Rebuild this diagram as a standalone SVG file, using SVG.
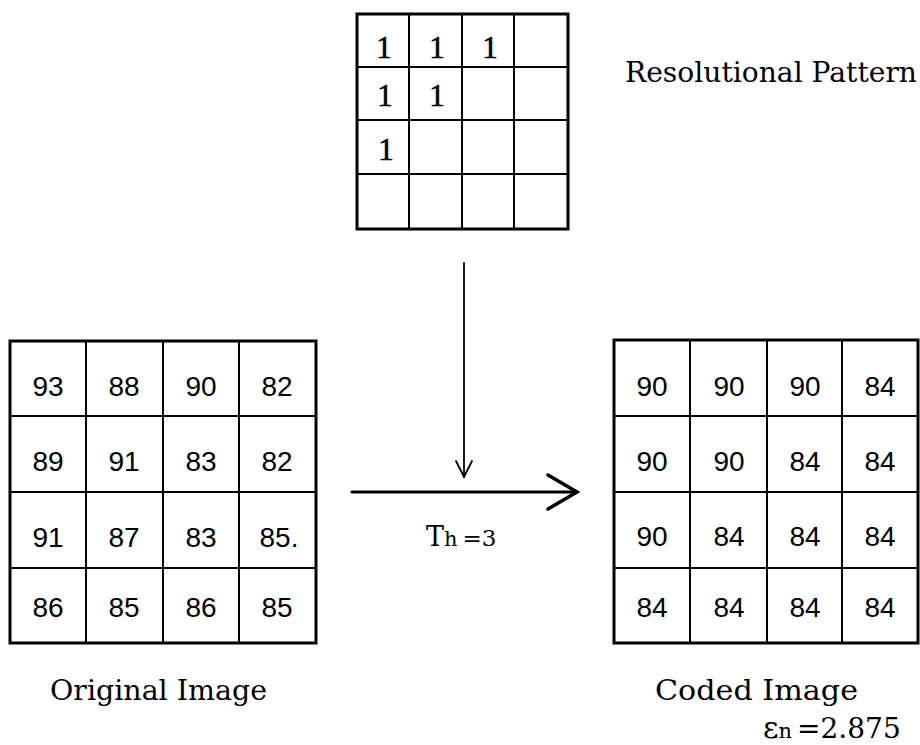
<svg xmlns="http://www.w3.org/2000/svg" width="920" height="745" viewBox="0 0 920 745">
  <style>
    .outer { fill: #fff; stroke: #000; stroke-width: 3; }
    .inner { stroke: #000; stroke-width: 2; fill: none; }
    .num { font-family: "Liberation Sans", Arial, sans-serif; font-size: 28px; text-anchor: middle; fill: #000; }
    .one { font-family: "Liberation Serif", "Times New Roman", serif; font-size: 31px; text-anchor: middle; fill: #000; stroke: #000; stroke-width: 0.6; }
    .label { font-family: "DejaVu Serif", "Liberation Serif", serif; font-size: 27px; fill: #000; }
    .conn { stroke: #000; fill: none; stroke-linecap: round; stroke-linejoin: miter; }
  </style>

  <!-- 4x4 resolutional pattern -->
  <g id="pattern">
    <rect class="outer" x="357" y="14" width="211" height="215"/>
    <path class="inner" d="M409 14V229M462 14V229M514 14V229M357 67H568M357 120H568M357 174H568"/>
    <text class="one" x="384" y="58">1</text>
    <text class="one" x="437" y="58">1</text>
    <text class="one" x="490" y="58">1</text>
    <text class="one" x="385" y="106">1</text>
    <text class="one" x="437" y="106">1</text>
    <text class="one" x="386" y="160">1</text>
  </g>
  <text id="pattern-label" class="label" x="625" y="82" textLength="292" lengthAdjust="spacingAndGlyphs">Resolutional Pattern</text>

  <!-- original 4x4 block -->
  <g id="original">
    <rect class="outer" x="10" y="341" width="306" height="302"/>
    <path class="inner" d="M86 341V643M163 341V643M239 341V643M10 416H316M10 492H316M10 568H316"/>
    <text class="num" x="48" y="396">93</text>
    <text class="num" x="124" y="396">88</text>
    <text class="num" x="201" y="396">90</text>
    <text class="num" x="277" y="396">82</text>
    <text class="num" x="48" y="471">89</text>
    <text class="num" x="124" y="471">91</text>
    <text class="num" x="201" y="471">83</text>
    <text class="num" x="277" y="471">82</text>
    <text class="num" x="48" y="547">91</text>
    <text class="num" x="124" y="547">87</text>
    <text class="num" x="201" y="547">83</text>
    <text class="num" x="279" y="547">85.</text>
    <text class="num" x="48" y="617">86</text>
    <text class="num" x="124" y="617">85</text>
    <text class="num" x="201" y="617">86</text>
    <text class="num" x="277" y="617">85</text>
  </g>
  <text id="original-label" class="label" x="50" y="700" textLength="217" lengthAdjust="spacingAndGlyphs">Original Image</text>

  <!-- coded 4x4 block -->
  <g id="coded">
    <rect class="outer" x="614" y="340" width="304" height="303"/>
    <path class="inner" d="M690 340V643M767 340V643M842 340V643M614 416H918M614 492H918M614 568H918"/>
    <text class="num" x="652" y="396">90</text>
    <text class="num" x="729" y="396">90</text>
    <text class="num" x="805" y="396">90</text>
    <text class="num" x="880" y="396">84</text>
    <text class="num" x="652" y="471">90</text>
    <text class="num" x="729" y="471">90</text>
    <text class="num" x="805" y="471">84</text>
    <text class="num" x="880" y="471">84</text>
    <text class="num" x="652" y="546">90</text>
    <text class="num" x="729" y="546">84</text>
    <text class="num" x="805" y="546">84</text>
    <text class="num" x="880" y="546">84</text>
    <text class="num" x="652" y="617">84</text>
    <text class="num" x="729" y="617">84</text>
    <text class="num" x="805" y="617">84</text>
    <text class="num" x="880" y="617">84</text>
  </g>
  <text id="coded-label" class="label" x="655" y="700" textLength="203" lengthAdjust="spacingAndGlyphs">Coded Image</text>
  <text id="error-label" class="label" x="763" y="738"><tspan font-size="30">ε</tspan><tspan font-size="21">n</tspan><tspan dx="5" font-size="28">=2.875</tspan></text>

  <!-- connectors -->
  <g id="connectors">
    <path class="conn" stroke-width="1.8" d="M464 263V477"/>
    <path class="conn" stroke-width="1.8" d="M456 461L464 477L472 461"/>
    <path class="conn" stroke-width="3" d="M352 492H577"/>
    <path class="conn" stroke-width="3.5" d="M548 475L577 492L548 509"/>
  </g>
  <text id="threshold-label" class="label" x="426" y="546"><tspan font-size="27">T</tspan><tspan font-size="21">h</tspan><tspan dx="5" font-size="23">=3</tspan></text>
</svg>
